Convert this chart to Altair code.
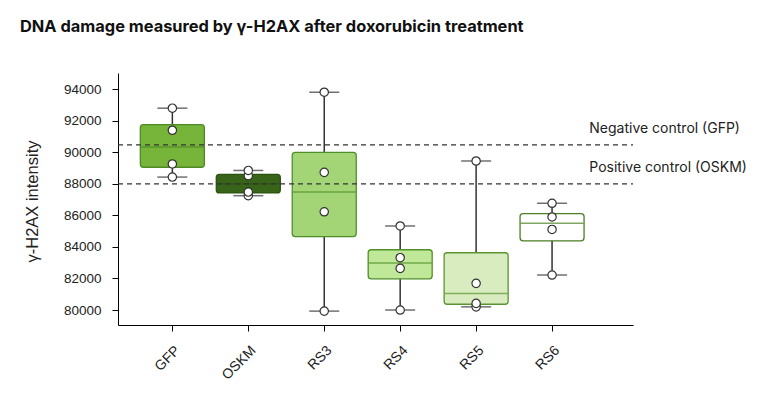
import altair as alt
import pandas as pd
import numpy as np

groups = ["GFP", "OSKM", "RS3", "RS4", "RS5", "RS6"]
positions = [0, 1, 2, 3, 4, 5]
values = {
    "GFP": [88430, 89260, 91400, 92800],
    "OSKM": [87250, 87480, 88520, 88850],
    "RS3": [79930, 86230, 88730, 93810],
    "RS4": [80000, 82640, 83320, 85330],
    "RS5": [80200, 80420, 81690, 89450],
    "RS6": [82220, 85110, 85900, 86770],
}
fills = ["#76b43a", "#38641a", "#a3d476", "#c0e899", "#d9ecc0", "#ffffff"]
edges = ["#4d8a26", "#2c5211", "#4f8f28", "#4f8f28", "#5a9532", "#4a7f22"]

ctrl_labels = ["Negative control (GFP)", "Positive control (OSKM)"]
ctrl_values = [90470, 88000]
ctrl_label_x = [5.49, 5.49]
y_ticks = [80000, 82000, 84000, 86000, 88000, 90000, 92000, 94000]

# tables
pts = pd.DataFrame(
    [{"group": g, "pos": p, "v": v} for g, p in zip(groups, positions) for v in values[g]]
)
stats = pd.DataFrame(
    [
        {
            "group": g,
            "pos": p,
            "lo": float(np.min(values[g])),
            "q1": float(np.percentile(values[g], 25)),
            "med": float(np.percentile(values[g], 50)),
            "q3": float(np.percentile(values[g], 75)),
            "hi": float(np.max(values[g])),
        }
        for g, p in zip(groups, positions)
    ]
)
ctrl = pd.DataFrame({"label": ctrl_labels, "v": ctrl_values, "x": ctrl_label_x})

label_expr = "[" + ",".join(f"'{g}'" for g in groups) + "][datum.value]"

xscale = alt.Scale(domain=[-0.65, 6.0], nice=False, zero=False)
yscale = alt.Scale(domain=[79050, 95030], nice=False, zero=False)
fill_scale = alt.Scale(domain=groups, range=fills)
edge_scale = alt.Scale(domain=groups, range=edges)

x_axis = alt.Axis(
    values=positions, labelExpr=label_expr, title=None, grid=False,
    labelAngle=-45, labelAlign="right", labelBaseline="top",
    labelFont="Liberation Sans", labelFontSize=14, labelColor="#222",
    tickSize=6, tickColor="#000", domainColor="#000", labelPadding=12,
    labelOverlap=False,
)
y_axis = alt.Axis(
    values=y_ticks,
    format="d", grid=False, title="γ-H2AX intensity",
    labelFont="Liberation Sans", labelFontSize=13.5, labelColor="#222",
    labelOverlap=False,
    titleFont="Liberation Sans", titleFontSize=16.5, titleFontWeight="normal",
    titleColor="#222", titleX=-86, titleY=128, titleAngle=-90,
    titleAlign="center", titleBaseline="middle",
    tickSize=6, tickColor="#000", domainColor="#000", labelPadding=11,
)


def X(field):
    return alt.X(field, scale=xscale, axis=x_axis)


def Y(field):
    return alt.Y(field, scale=yscale, axis=y_axis)


base_s = alt.Chart(stats)

whisk = base_s.mark_rule(color="#333", strokeWidth=1.5).encode(
    x=X("pos:Q"), y=Y("lo:Q"), y2="hi:Q",
)
caps_lo = base_s.mark_tick(color="#333", size=30, thickness=1.5, orient="horizontal").encode(
    x=X("pos:Q"), y=Y("lo:Q")
)
caps_hi = base_s.mark_tick(color="#333", size=30, thickness=1.5, orient="horizontal").encode(
    x=X("pos:Q"), y=Y("hi:Q")
)
box = base_s.mark_bar(size=64, cornerRadius=3, strokeWidth=1.3).encode(
    x=X("pos:Q"), y=Y("q1:Q"), y2="q3:Q",
    fill=alt.Fill("group:N", scale=fill_scale, legend=None),
    stroke=alt.Stroke("group:N", scale=edge_scale, legend=None),
)
median = base_s.mark_tick(size=63, thickness=1.5, orient="horizontal").encode(
    x=X("pos:Q"), y=Y("med:Q"),
    color=alt.Color("group:N", scale=edge_scale, legend=None),
)
ctrl_lines = alt.Chart(ctrl).mark_rule(color="#333", strokeWidth=1.2, strokeDash=[5, 4]).encode(
    y=Y("v:Q"),
    x=alt.value(0), x2=alt.value(515),
)
ctrl_text = alt.Chart(ctrl).mark_text(
    align="left", baseline="middle", dy=-16, font="Inter", fontSize=14, color="#222"
).encode(
    x=X("x:Q"), y=Y("v:Q"), text="label:N",
)
points = alt.Chart(pts).mark_point(
    shape="circle", filled=True, fill="#fff", stroke="#333", strokeWidth=1.2, size=70, opacity=1
).encode(
    x=X("pos:Q"), y=Y("v:Q"),
)

chart = alt.layer(
    whisk, box, median, ctrl_lines, caps_lo, caps_hi, points, ctrl_text
).properties(
    width=515,
    height=252,
    autosize=alt.AutoSizeParams(type="none"),
    padding={"left": 110, "top": 65, "right": 130, "bottom": 62},
    title=alt.TitleParams(
        "DNA damage measured by γ-H2AX after doxorubicin treatment",
        anchor="start", frame="group", dx=-98, offset=38,
        font="Inter", fontSize=16.4, fontWeight="bold", color="#111",
    ),
).configure(
    background="#ffffff",
    view=alt.ViewConfig(stroke="transparent", strokeWidth=0),
)

chart.save("out.html", embed_options={"renderer": "svg", "actions": False})
